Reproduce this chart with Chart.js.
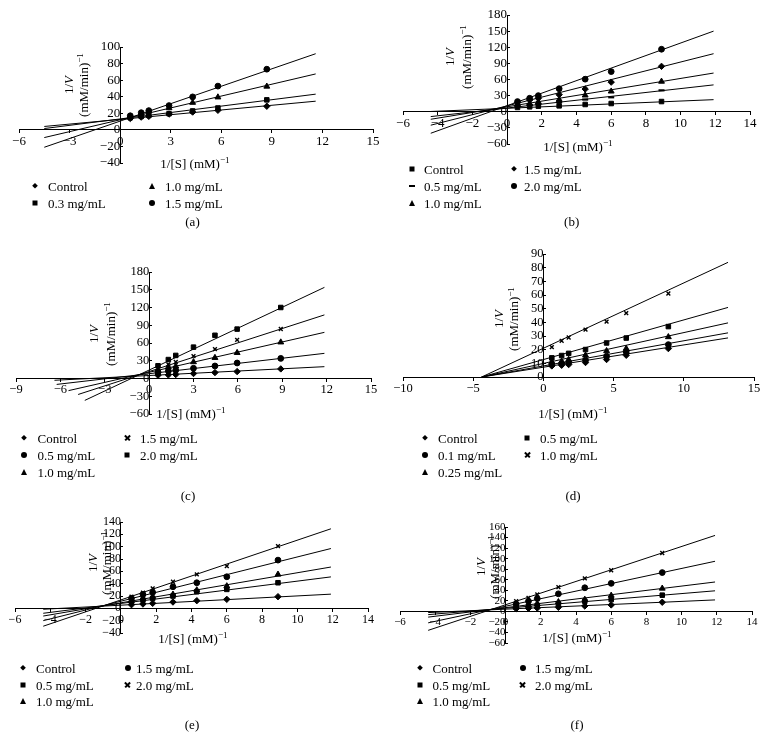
<!DOCTYPE html>
<html><head><meta charset="utf-8">
<script src="https://cdn.jsdelivr.net/npm/chart.js@4.4.0/dist/chart.umd.min.js"></script>
<style>
html,body{margin:0;padding:0;background:#fff}
body{width:767px;height:741px;position:relative;overflow:hidden;font-family:'Liberation Serif','DejaVu Serif',serif;color:#000}
canvas{position:absolute}
.t{position:absolute;white-space:nowrap;line-height:1;transform:translate(-50%,-50%)}
.yt{position:absolute;white-space:nowrap;text-align:center;transform:translate(-50%,-50%) rotate(-90deg)}
.lg{position:absolute;white-space:nowrap;line-height:1;transform:translateY(-50%);font-size:13px}
.mk{position:absolute;transform:translate(-50%,-50%)}
sup{font-size:70%;vertical-align:0.45em;line-height:0}
</style></head><body>
<script>
// ---------- Panel (a) ----------
const aSeries = ['Control', '0.3 mg/mL', '1.0 mg/mL', '1.5 mg/mL'];
const aX = [0.6, 1.25, 1.7, 2.9, 4.3, 5.8, 8.7];
const aControl = [13.8, 15.4, 16.3, 19.1, 21.5, 23.6, 28.5];
const a03 = [14.6, 16.3, 17.5, 19.5, 22.8, 26.4, 36.2];
const a10 = [16.3, 19.9, 22.4, 26.4, 32.9, 39.4, 52.4];
const a15 = [17.0, 20.7, 23.2, 29.3, 39.8, 52.8, 73.2];
const aFitX0 = [-4.5, -4.5, -4.5, -4.5];
const aFitX1 = [11.6, 11.6, 11.6, 11.6];
const aFitY0 = [4.1, 1.6, -9.3, -21];
const aFitY1 = [34.6, 43.1, 67.5, 91.9];
const aXTicks = [-6, -3, 0, 3, 6, 9, 12, 15];
const aYTicks = [-40, -20, 0, 20, 40, 60, 80, 100];

// ---------- Panel (b) ----------
const bSeries = ['Control', '0.5 mg/mL', '1.0 mg/mL', '1.5 mg/mL', '2.0 mg/mL'];
const bX = [0.6, 1.3, 1.8, 3.0, 4.5, 6.0, 8.9];
const bControl = [8, 9.2, 10.4, 11, 13.5, 15.3, 19];
const b05 = [9.8, 12.2, 14.1, 17.8, 22.7, 26.9, 39.8];
const b10 = [13.5, 15.3, 18.4, 22.7, 30.6, 38, 56.3];
const b15 = [17.1, 22, 25.1, 31.8, 42.3, 55.1, 84.5];
const b20 = [19, 25.1, 30, 42.9, 60.6, 74.7, 116.3];
const bFitX0 = [-4.4, -4.4, -4.4, -4.4, -4.4];
const bFitX1 = [11.9, 11.9, 11.9, 11.9, 11.9];
const bFitY0 = [0.5, -9, -14, -25, -40];
const bFitY1 = [22.5, 50, 72, 108, 150];
const bXTicks = [-6, -4, -2, 0, 2, 4, 6, 8, 10, 12, 14];
const bYTicks = [-60, -30, 0, 30, 60, 90, 120, 150, 180];

// ---------- Panel (c) ----------
const cSeries = ['Control', '0.5 mg/mL', '1.0 mg/mL', '1.5 mg/mL', '2.0 mg/mL'];
const cX = [0.6, 1.3, 1.8, 3.0, 4.45, 5.95, 8.9];
const cControl = [5.6, 6.1, 6.7, 8.4, 10, 11.7, 16.2];
const c05 = [10.6, 12.8, 13.9, 17.3, 21.2, 26.2, 34];
const c10 = [13.9, 19.5, 20.6, 27.9, 35.1, 43.5, 61.3];
const c15 = [16.7, 24, 27.9, 37.9, 49.6, 65.3, 83.7];
const c20 = [21.5, 32, 39, 53, 73, 83.5, 120];
const cFitX0 = [-6.4, -6.25, -5.45, -4.8, -4.35];
const cFitX1 = [11.85, 11.85, 11.85, 11.85, 11.85];
const cFitY0 = [-3, -10, -20.5, -27, -37];
const cFitY1 = [20, 42.5, 78, 107.5, 154];
const cXTicks = [-9, -6, -3, 0, 3, 6, 9, 12, 15];
const cYTicks = [-60, -30, 0, 30, 60, 90, 120, 150, 180];

// ---------- Panel (d) ----------
const dSeries = ['Control', '0.1 mg/mL', '0.25 mg/mL', '0.5 mg/mL', '1.0 mg/mL'];
const dX = [0.6, 1.3, 1.8, 3.0, 4.5, 5.9, 8.9];
const dControl = [8.1, 8.6, 9.1, 10.6, 12.8, 15.9, 20.8];
const d01 = [9.3, 9.8, 10.6, 12.3, 15.2, 18.3, 23.7];
const d025 = [11, 11.5, 12.7, 15.9, 19.1, 20.8, 29.3];
const d05 = [14, 15.7, 17.3, 20.1, 24.9, 28.5, 36.9];
const d10 = [21.8, 26.5, 28.9, 34.7, 40.5, 46.7, 61.1];
const dFitX0 = [-4.4, -4.4, -4.4, -4.4, -4.4];
const dFitX1 = [13.15, 13.15, 13.15, 13.15, 13.15];
const dFitY0 = [0, 0, 0, 0, 0];
const dFitY1 = [28.6, 32.3, 39.6, 50.9, 83.9];
const dXTicks = [-10, -5, 0, 5, 10, 15];
const dYTicks = [0, 10, 20, 30, 40, 50, 60, 70, 80, 90];

// ---------- Panel (e) ----------
const eSeries = ['Control', '0.5 mg/mL', '1.0 mg/mL', '1.5 mg/mL', '2.0 mg/mL'];
const eX = [0.6, 1.25, 1.8, 2.95, 4.3, 6.0, 8.9];
const eControl = [5.9, 7, 8.1, 10.2, 12.4, 14.6, 18.9];
const e05 = [10.8, 13.5, 16.2, 19.9, 27, 30.7, 41.5];
const e10 = [12.4, 16.2, 18.9, 22.6, 29.6, 36.1, 55];
const e15 = [16.2, 22.6, 25.9, 35, 41.5, 51.2, 78.2];
const e20 = [18.9, 25.3, 32.3, 43.1, 55, 68.5, 100.8];
const eFitX0 = [-4.4, -4.4, -4.4, -4.4, -4.4];
const eFitX1 = [11.9, 11.9, 11.9, 11.9, 11.9];
const eFitY0 = [-1.5, -8, -12.5, -20, -29];
const eFitY1 = [23, 51, 67, 97, 129];
const eXTicks = [-6, -4, -2, 0, 2, 4, 6, 8, 10, 12, 14];
const eYTicks = [-40, -20, 0, 20, 40, 60, 80, 100, 120, 140];

// ---------- Panel (f) ----------
const fSeries = ['Control', '0.5 mg/mL', '1.0 mg/mL', '1.5 mg/mL', '2.0 mg/mL'];
const fX = [0.6, 1.3, 1.8, 3.0, 4.5, 6.0, 8.9];
const fControl = [5.1, 5.8, 6.4, 7.7, 10.2, 12.2, 17.3];
const f05 = [7.7, 9.6, 11.5, 14.1, 19.2, 22.4, 30.7];
const f10 = [9.6, 11.5, 14.1, 17.9, 22.4, 30.1, 43.5];
const f15 = [14.1, 19.2, 24.3, 33.3, 44.8, 53.1, 73.6];
const f20 = [19.2, 25.6, 32, 46, 62.7, 78, 110.7];
const fFitX0 = [-4.4, -4.4, -4.4, -4.4, -4.4];
const fFitX1 = [11.9, 11.9, 11.9, 11.9, 11.9];
const fFitY0 = [-2.3, -6.2, -10.9, -21.8, -36];
const fFitY1 = [21.7, 39, 55.7, 95, 144];
const fXTicks = [-6, -4, -2, 0, 2, 4, 6, 8, 10, 12, 14];
const fYTicks = [-60, -40, -20, 0, 20, 40, 60, 80, 100, 120, 140, 160];

const FONT = "'Liberation Serif','DejaVu Serif',serif";
const P = 24;
const STYLE = {
  diamond: {pointStyle: 'rectRot', pointRadius: 3.2, borderWidth: 1},
  square: {pointStyle: 'rect', pointRadius: 3.2, borderWidth: 1},
  triangle: {pointStyle: 'triangle', pointRadius: 3.4, borderWidth: 1},
  circle: {pointStyle: 'circle', pointRadius: 2.9, borderWidth: 1},
  cross: {pointStyle: 'crossRot', pointRadius: 2.7, borderWidth: 1.4},
  dash: {pointStyle: 'line', pointRadius: 3, borderWidth: 2.2}
};
function fmt(v) { return v < 0 ? '\u2212' + Math.abs(v) : String(v); }

function el(tag, cls, html, css) {
  const e = document.createElement(tag);
  if (cls) e.className = cls;
  if (html != null) e.innerHTML = html;
  Object.assign(e.style, css || {});
  document.body.appendChild(e);
  return e;
}

function marker(kind, x, y) {
  const m = el('div', 'mk', null, {left: x + 'px', top: y + 'px'});
  const s = m.style;
  if (kind === 'diamond') { s.width = '4.4px'; s.height = '4.4px'; s.background = '#000'; s.transform = 'translate(-50%,-50%) rotate(45deg)'; }
  else if (kind === 'square') { s.width = '5px'; s.height = '5px'; s.background = '#000'; }
  else if (kind === 'circle') { s.width = '6px'; s.height = '6px'; s.background = '#000'; s.borderRadius = '50%'; }
  else if (kind === 'triangle') { s.width = '0'; s.height = '0'; s.borderLeft = '3.5px solid transparent'; s.borderRight = '3.5px solid transparent'; s.borderBottom = '6px solid #000'; }
  else if (kind === 'dash') { s.width = '6px'; s.height = '2px'; s.background = '#000'; }
  else if (kind === 'cross') {
    s.width = '6px'; s.height = '6px';
    ['45deg', '-45deg'].forEach(r => {
      const b = document.createElement('div');
      Object.assign(b.style, {position: 'absolute', left: '-0.5px', top: '2.2px', width: '7px', height: '1.6px', background: '#000', transform: 'rotate(' + r + ')'});
      m.appendChild(b);
    });
  }
}

function panel(p) {
  const l = Math.round(p.area[0]), r = Math.round(p.area[1]);
  const t = Math.round(p.area[2]), b = Math.round(p.area[3]);
  const cv = document.createElement('canvas');
  cv.width = (r - l) + 2 * P; cv.height = (b - t) + 2 * P;
  cv.style.left = (l - P) + 'px'; cv.style.top = (t - P) + 'px';
  document.body.appendChild(cv);
  const datasets = [];
  p.series.forEach((ys, i) => {
    const st = STYLE[p.markers[i]];
    datasets.push(Object.assign({
      label: p.names[i],
      data: p.xs.map((x, k) => ({x: x, y: ys[k]})),
      showLine: false, backgroundColor: '#000', borderColor: '#000'
    }, st));
  });
  p.series.forEach((ys, i) => {
    datasets.push({
      label: p.names[i] + ' fit',
      data: [{x: p.fx0[i], y: p.fy0[i]}, {x: p.fx1[i], y: p.fy1[i]}],
      showLine: true, pointRadius: 0, borderColor: '#000', borderWidth: 1, fill: false
    });
  });
  const tickFont = {family: FONT, size: p.fs};
  new Chart(cv, {
    type: 'scatter',
    data: {datasets: datasets},
    options: {
      responsive: false, animation: false, events: [],
      layout: {padding: P},
      plugins: {legend: {display: false}, tooltip: {enabled: false}},
      scales: {
        x: {
          type: 'linear', position: {y: 0},
          min: p.xt[0], max: p.xt[p.xt.length - 1],
          afterBuildTicks: s => { s.ticks = p.xt.map(v => ({value: v})); },
          ticks: {autoSkip: false, maxRotation: 0, color: '#000', font: tickFont, padding: 1, callback: fmt},
          grid: {drawOnChartArea: false, color: '#000', tickLength: 3},
          border: {color: '#000', width: 1}
        },
        y: {
          type: 'linear', position: {x: 0},
          min: p.yt[0], max: p.yt[p.yt.length - 1],
          afterBuildTicks: s => { s.ticks = p.yt.map(v => ({value: v})); },
          ticks: {autoSkip: false, color: '#000', font: tickFont, padding: 7, callback: fmt},
          grid: {drawOnChartArea: false, color: '#000', tickLength: -3},
          border: {color: '#000', width: 1}
        }
      }
    }
  });
  el('div', 't', '1/[S] (mM)<sup>\u22121</sup>', {left: p.xTitle[0] + 'px', top: p.xTitle[1] + 'px', fontSize: p.tfs + 'px'});
  el('div', 'yt', '1/<i>V</i><br>(mM/min)<sup>\u22121</sup>', {left: p.yTitle[0] + 'px', top: p.yTitle[1] + 'px', fontSize: p.tfs + 'px', lineHeight: p.yTitle[2] + 'px'});
  p.legend.forEach(it => {
    const idx = it[0], col = it[1], row = it[2];
    const y = p.legRows[row];
    marker(p.markers[idx], p.legMk[col], y);
    el('div', 'lg', p.names[idx], {left: p.legTx[col] + 'px', top: y + 'px'});
  });
  el('div', 't', p.tag, {left: p.tagPos[0] + 'px', top: p.tagPos[1] + 'px', fontSize: '13px'});
}

panel({
  area: [19, 372.5, 47.3, 163.3], xt: aXTicks, yt: aYTicks, fs: 13, tfs: 13,
  xs: aX, series: [aControl, a03, a10, a15], names: aSeries,
  markers: ['diamond', 'square', 'triangle', 'circle'],
  fx0: aFitX0, fx1: aFitX1, fy0: aFitY0, fy1: aFitY1,
  xTitle: [195, 162.5], yTitle: [75.5, 85, 14.5],
  legend: [[0, 0, 0], [1, 0, 1], [2, 1, 0], [3, 1, 1]],
  legMk: [35, 152], legTx: [48, 165], legRows: [185.7, 203.3],
  tag: '(a)', tagPos: [192.5, 221]
});
panel({
  area: [403.3, 750, 15, 144], xt: bXTicks, yt: bYTicks, fs: 13, tfs: 13,
  xs: bX, series: [bControl, b05, b10, b15, b20], names: bSeries,
  markers: ['square', 'dash', 'triangle', 'diamond', 'circle'],
  fx0: bFitX0, fx1: bFitX1, fy0: bFitY0, fy1: bFitY1,
  xTitle: [578, 145.7], yTitle: [458.3, 57, 16.5],
  legend: [[0, 0, 0], [1, 0, 1], [2, 0, 2], [3, 1, 0], [4, 1, 1]],
  legMk: [412, 514], legTx: [424, 524], legRows: [169.3, 186, 203],
  tag: '(b)', tagPos: [571.7, 221]
});
panel({
  area: [16.3, 370.7, 271.7, 414], xt: cXTicks, yt: cYTicks, fs: 12.5, tfs: 13,
  xs: cX, series: [cControl, c05, c10, c15, c20], names: cSeries,
  markers: ['diamond', 'circle', 'triangle', 'cross', 'square'],
  fx0: cFitX0, fx1: cFitX1, fy0: cFitY0, fy1: cFitY1,
  xTitle: [191, 412.7], yTitle: [101.7, 334, 16.5],
  legend: [[0, 0, 0], [1, 0, 1], [2, 0, 2], [3, 1, 0], [4, 1, 1]],
  legMk: [24, 127], legTx: [37.5, 140], legRows: [438.3, 455, 471.5],
  tag: '(c)', tagPos: [188, 495]
});
panel({
  area: [403.3, 754.3, 254, 376.7], xt: dXTicks, yt: dYTicks, fs: 12.5, tfs: 13,
  xs: dX, series: [dControl, d01, d025, d05, d10], names: dSeries,
  markers: ['diamond', 'circle', 'triangle', 'square', 'cross'],
  fx0: dFitX0, fx1: dFitX1, fy0: dFitY0, fy1: dFitY1,
  xTitle: [573, 412.7], yTitle: [505.8, 319, 15],
  legend: [[0, 0, 0], [1, 0, 1], [2, 0, 2], [3, 1, 0], [4, 1, 1]],
  legMk: [425, 527], legTx: [438, 540], legRows: [438.3, 455, 471.5],
  tag: '(d)', tagPos: [573, 495]
});
panel({
  area: [15, 368.3, 521.7, 633.3], xt: eXTicks, yt: eYTicks, fs: 12, tfs: 13,
  xs: eX, series: [eControl, e05, e10, e15, e20], names: eSeries,
  markers: ['diamond', 'square', 'triangle', 'circle', 'cross'],
  fx0: eFitX0, fx1: eFitX1, fy0: eFitY0, fy1: eFitY1,
  xTitle: [193, 638.3], yTitle: [100.3, 563, 14],
  legend: [[0, 0, 0], [1, 0, 1], [2, 0, 2], [3, 1, 0], [4, 1, 1]],
  legMk: [22.5, 127.5], legTx: [36, 136], legRows: [668.3, 684.7, 701.3],
  tag: '(e)', tagPos: [192, 724]
});
panel({
  area: [400, 751.7, 526.7, 642.7], xt: fXTicks, yt: fYTicks, fs: 11, tfs: 13,
  xs: fX, series: [fControl, f05, f10, f15, f20], names: fSeries,
  markers: ['diamond', 'square', 'triangle', 'circle', 'cross'],
  fx0: fFitX0, fx1: fFitX1, fy0: fFitY0, fy1: fFitY1,
  xTitle: [577, 636.7], yTitle: [486.7, 567, 13.5],
  legend: [[0, 0, 0], [1, 0, 1], [2, 0, 2], [3, 1, 0], [4, 1, 1]],
  legMk: [420, 522.5], legTx: [432.5, 535], legRows: [668.3, 684.7, 701.3],
  tag: '(f)', tagPos: [577, 724]
});
</script>
</body></html>
